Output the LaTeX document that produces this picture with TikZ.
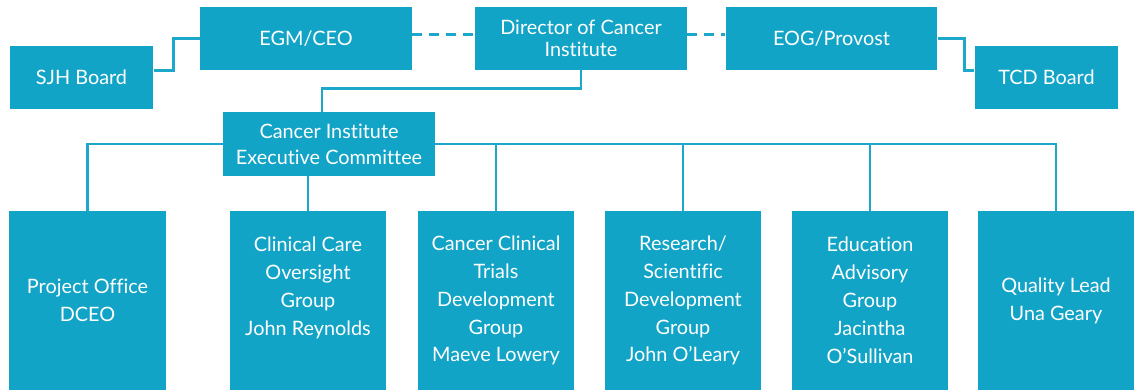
\documentclass[tikz,border=0pt]{standalone}
\usepackage{fontspec}
\setmainfont{Lato}[Ligatures={NoCommon}]
\usepackage{tikz}

\definecolor{cibox}{HTML}{12A4C7}
\definecolor{ciline}{HTML}{1CA7CB}

\tikzset{
  unitbox/.style={rectangle, fill=cibox, text=white, align=center, inner sep=0pt,
    font=\fontsize{11.3}{15.9}\selectfont},
  topbox/.style={unitbox, minimum width=4.24cm, minimum height=1.26cm,
    font=\fontsize{11.3}{12.6}\selectfont},
  boardbox/.style={unitbox, minimum width=2.88cm, minimum height=1.26cm},
  groupbox/.style={unitbox, minimum width=3.14cm, minimum height=3.58cm},
  link/.style={draw=ciline, line width=1.6pt},
  dottedlink/.style={link, dash pattern=on 0.2cm off 0.14cm}
}

\begin{document}
\begin{tikzpicture}[x=0.02cm, y=-0.02cm]
				\useasboundingbox (0, 0) rectangle (1136, 390);
				% top row
				\node[boardbox] (sjh) at (81.5, 77.5) {SJH Board};
				\node[topbox] (egm) at (306, 38.5) {EGM/CEO};
				\node[topbox] (dir) at (581, 38.5) {Director of Cancer\\Institute};
				\node[topbox] (eog) at (831.5, 38.5) {EOG/Provost};
				\node[boardbox] (tcd) at (1046.5, 77.5) {TCD Board};
				% bus lines behind the committee box
				\draw[link] (87.5, 211) |- (329, 144) -| (1056, 211);
				\node[topbox, minimum height=1.28cm, font=\fontsize{11.3}{14.7}\selectfont] (cic) at (329, 144) {Cancer Institute\\Executive Committee};
				% groups
				\node[groupbox] (po) at (87.5, 300.5) {Project Office\\DCEO};
				\node[groupbox] (cc) at (308, 300.5) {Clinical Care\\Oversight\\Group\\John Reynolds\\\mbox{}};
				\node[groupbox] (cct) at (496, 300.5) {Cancer Clinical\\Trials\\Development\\Group\\Maeve Lowery};
				\node[groupbox] (rsd) at (683, 300.5) {Research/\\Scientific\\Development\\Group\\John O’Leary};
				\node[groupbox] (eag) at (870, 300.5) {Education\\Advisory\\Group\\Jacintha\\O’Sullivan};
				\node[groupbox] (ql) at (1056, 300.5) {Quality Lead\\Una Geary};
				% links
				\draw[link] ([yshift=0.14cm]sjh.east) -- ++(20, 0) |- (egm.west);
				\draw[dottedlink] ([yshift=0.08cm]egm.east) -- ([yshift=0.08cm]dir.west);
				\draw[dottedlink] ([yshift=0.08cm]dir.east) -- ([yshift=0.08cm]eog.west);
				\draw[link] (eog.east) -- ++(27, 0) |- ([yshift=0.14cm]tcd.west);
				\draw[link] (dir.south) -- ++(0, 18) -| ([xshift=-0.14cm]cic.north);
				\draw[link] (cc.north) -- (cc.north |- cic.south);
				\draw[link] (cct.north) -- (cct.north |- cic.east);
				\draw[link] (rsd.north) -- (rsd.north |- cic.east);
				\draw[link] (eag.north) -- (eag.north |- cic.east);
			\end{tikzpicture}
\end{document}
